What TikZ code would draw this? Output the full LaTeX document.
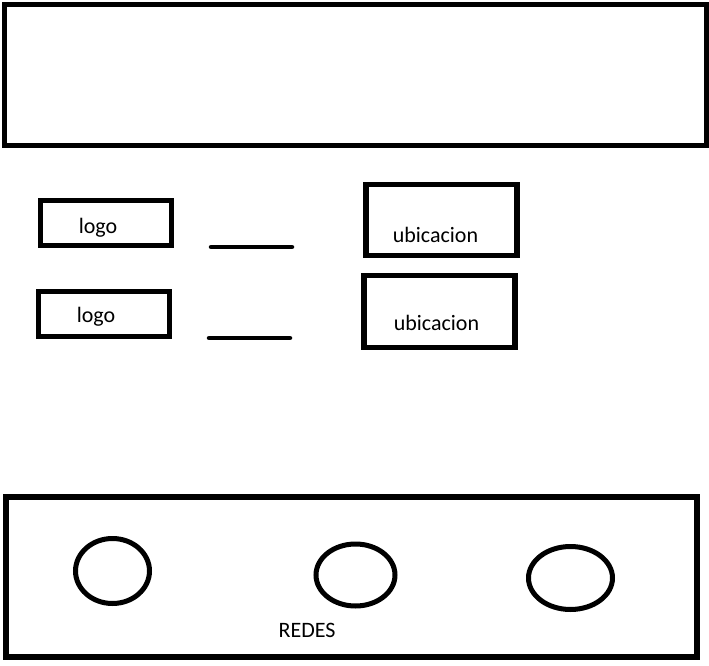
\documentclass[tikz,border=0pt]{standalone}
\usepackage{fontspec}
\setmainfont{Carlito}
\begin{document}
\begin{tikzpicture}[x=1pt,y=-1pt]
\useasboundingbox (0,0) rectangle (709,666);
\tikzset{box/.style={draw, rectangle, inner sep=0pt, line width=5pt},
  txt/.style={anchor=base, inner sep=0pt, font=\fontsize{22}{26}\selectfont},
  redes/.style={line width=5pt}}
% header and footer
\node[box, minimum width=701.5pt, minimum height=141pt] (head) at (355.25,75){};
\node[box, line width=6pt, minimum width=691pt, minimum height=160pt] (foot) at (351.5,577){};
% left column
\node[box, minimum width=131pt, minimum height=44.5pt] (logo1) at (106,222.75){};
\node[box, minimum width=131pt, minimum height=44.5pt] (logo2) at (104,313.75){};
\node[txt] (tlogo1) at (98,233){logo};
\node[txt] (tlogo2) at (96,322){logo};
\coordinate (l1a) at (211,247);
\coordinate (l1b) at (292,247);
\coordinate (l2a) at (209,338);
\coordinate (l2b) at (290,338);
\draw[line width=4.5pt, line cap=round] (l1a) -- (l1b);
\draw[line width=4.5pt, line cap=round] (l2a) -- (l2b);
% right column
\node[box, line width=5.5pt, minimum width=151pt, minimum height=71pt] (ubi1) at (441.5,220){};
\node[box, line width=5.5pt, minimum width=151pt, minimum height=72pt] (ubi2) at (439.5,311.5){};
\node[txt] (tubi1) at (435.5,242){ubicacion};
\node[txt] (tubi2) at (436.5,330){ubicacion};
% redes
\draw[redes] (112.5,571) ellipse (37 and 32.5);
\draw[redes] (355.5,575) ellipse (39.5 and 31);
\draw[redes] (570.5,578) ellipse (42 and 31.5);
\node[txt] (tredes) at (307,637){REDES};
\end{tikzpicture}
\end{document}
